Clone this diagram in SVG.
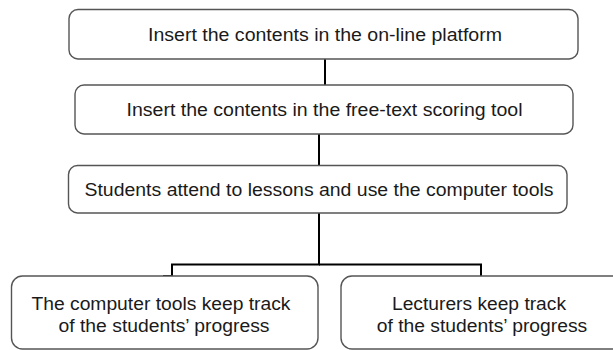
<svg xmlns="http://www.w3.org/2000/svg" width="613" height="350" viewBox="0 0 613 350">
<style>
.box{fill:#fff;stroke:#555;stroke-width:1.4}
.t{font-family:"Liberation Sans",Arial,sans-serif;font-size:17.5px;fill:#1a1a1a;text-anchor:middle}
.c{fill:none;stroke:#000;stroke-width:2}
</style>
<rect width="613" height="350" fill="#fff"/>
<g id="connectors">
<line class="c" x1="325" y1="59" x2="325" y2="85"/>
<line class="c" x1="319" y1="134" x2="319" y2="165.5"/>
<path class="c" d="M319,213 V264.5 H172 V276 H163"/>
<path class="c" d="M319,264.5 H481 V276"/>
</g>
<g id="n1">
<rect class="box" x="69" y="9.5" width="509" height="49.5" rx="9"/>
<text class="t" x="325" y="40.5" textLength="354" lengthAdjust="spacingAndGlyphs">Insert the contents in the on-line platform</text>
</g>
<g id="n2">
<rect class="box" x="75" y="85" width="498" height="49" rx="9"/>
<text class="t" x="324.5" y="116" textLength="396" lengthAdjust="spacingAndGlyphs">Insert the contents in the free-text scoring tool</text>
</g>
<g id="n3">
<rect class="box" x="68.5" y="165.5" width="498.5" height="47.5" rx="9"/>
<text class="t" x="319" y="196" textLength="469" lengthAdjust="spacingAndGlyphs">Students attend to lessons and use the computer tools</text>
</g>
<g id="n4">
<rect class="box" x="11.5" y="276" width="306.5" height="73" rx="11"/>
<text class="t" x="161" y="310" textLength="259" lengthAdjust="spacingAndGlyphs">The computer tools keep track</text>
<text class="t" x="164" y="331.5" textLength="211" lengthAdjust="spacingAndGlyphs">of the students’ progress</text>
</g>
<g id="n5">
<rect class="box" x="341" y="276" width="282" height="73" rx="11"/>
<text class="t" x="479" y="309.5" textLength="174" lengthAdjust="spacingAndGlyphs">Lecturers keep track</text>
<text class="t" x="482" y="331.5" textLength="210.5" lengthAdjust="spacingAndGlyphs">of the students’ progress</text>
</g>
</svg>
